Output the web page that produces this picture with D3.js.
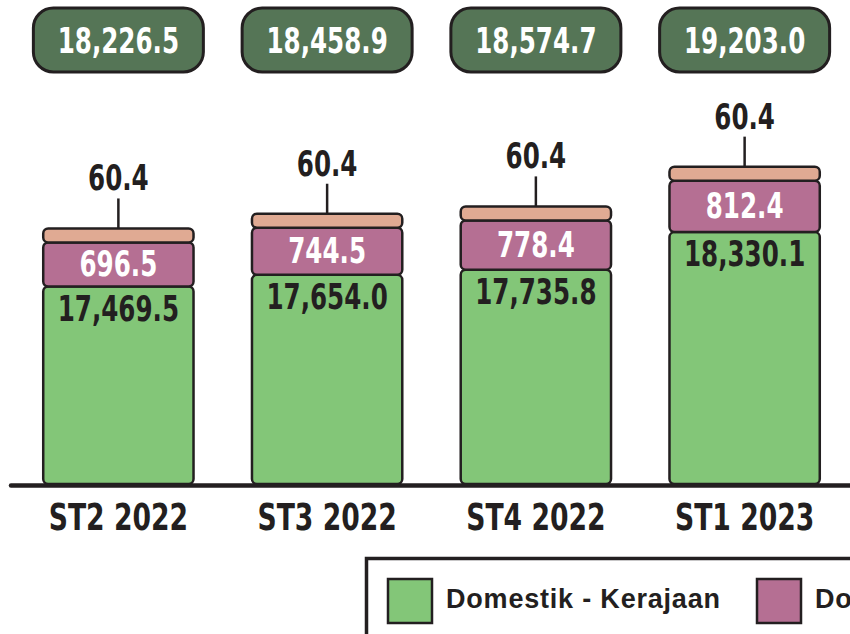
<!DOCTYPE html>
<html>
<head>
<meta charset="utf-8">
<script src="https://cdn.jsdelivr.net/npm/d3@7"></script>
<style>
  body { margin: 0; background: #fff; }
  svg text { font-family: "DejaVu Sans Condensed", "DejaVu Sans", sans-serif; font-weight: bold; }
  .legend text { font-family: "Liberation Sans", "DejaVu Sans", sans-serif; }
</style>
</head>
<body>
<svg id="chart" width="850" height="634"></svg>
<script>
// data
const quarters = ["ST2 2022", "ST3 2022", "ST4 2022", "ST1 2023"];
const kerajaan = [17469.5, 17654.0, 17735.8, 18330.1];
const swasta = [696.5, 744.5, 778.4, 812.4];
const luar = [60.4, 60.4, 60.4, 60.4];
const totals = [18226.5, 18458.9, 18574.7, 19203.0];
const legendNames = ["Domestik - Kerajaan", "Domestik - Swasta", "Luar Negara"];

const keys = ["kerajaan", "swasta", "luar"];
const colors = { kerajaan: "#83c678", swasta: "#b56f93", luar: "#e0aa93" };
const ink = "#231f20";
const fmt = d3.format(",.1f");

const rows = quarters.map((q, i) => ({ q: q, kerajaan: kerajaan[i], swasta: swasta[i], luar: luar[i], total: totals[i] }));
const series = d3.stack().keys(keys)(rows);

const svg = d3.select("#chart");
const base = 484;

const x = d3.scaleBand().domain(quarters).range([14, 849]).paddingInner(0.28).paddingOuter(0.14);
// axis does not start at zero in the original
const y = d3.scaleLinear().domain([14350, 19200]).range([base, 177]).clamp(true);
const minH = 14; // keep the thin top layer visible

// the original uses a narrow font, squeeze the condensed one a bit
const sx = 0.76;

function segTop(key, d) {
  const t = y(d[1]);
  return key === "luar" ? Math.min(t, y(d[0]) - minH) : t;
}

// bars
const layer = svg.append("g").selectAll("g")
  .data(series)
  .join("g")
  .attr("fill", s => colors[s.key]);

layer.selectAll("rect")
  .data(s => s.map(d => ({ key: s.key, d: d })))
  .join("rect")
  .attr("x", p => x(p.d.data.q))
  .attr("width", x.bandwidth())
  .attr("y", p => segTop(p.key, p.d))
  .attr("height", p => y(p.d[0]) - segTop(p.key, p.d))
  .attr("rx", 5)
  .attr("stroke", ink)
  .attr("stroke-width", 2.5);

const labels = svg.append("g");
const cx = q => x(q) + x.bandwidth() / 2;

function put(sel, fx, fy) {
  sel.attr("transform", d => `translate(${fx(d)},${fy(d)}) scale(${sx},1)`)
    .attr("text-anchor", "middle")
    .attr("font-size", 36);
}

// green labels
labels.selectAll(".lab-k")
  .data(series[0])
  .join("text")
  .call(put, d => cx(d.data.q), d => y(d[1]) + 34)
  .attr("fill", ink)
  .text(d => fmt(d.data.kerajaan));

// purple labels
labels.selectAll(".lab-s")
  .data(series[1])
  .join("text")
  .call(put, d => cx(d.data.q), d => (y(d[0]) + y(d[1])) / 2 + 12)
  .attr("fill", "#fff")
  .text(d => fmt(d.data.swasta));

// top layer labels with leader line
const tops = series[2].map(d => ({ d: d, t: segTop("luar", d) }));
labels.selectAll(".lead")
  .data(tops)
  .join("line")
  .attr("x1", p => cx(p.d.data.q))
  .attr("x2", p => cx(p.d.data.q))
  .attr("y1", p => p.t)
  .attr("y2", p => p.t - 30)
  .attr("stroke", ink)
  .attr("stroke-width", 2.5);

labels.selectAll(".lab-l")
  .data(tops)
  .join("text")
  .call(put, p => cx(p.d.data.q), p => p.t - 38)
  .attr("fill", ink)
  .text(p => fmt(p.d.data.luar));

// total boxes
const box = svg.append("g").selectAll("g")
  .data(rows)
  .join("g")
  .attr("transform", d => `translate(${cx(d.q)},0)`);

box.append("rect")
  .attr("x", -85).attr("y", 8)
  .attr("width", 170).attr("height", 64)
  .attr("rx", 20)
  .attr("fill", "#557556")
  .attr("stroke", ink)
  .attr("stroke-width", 3);

box.append("text")
  .call(put, () => 0, () => 53)
  .attr("fill", "#fff")
  .text(d => fmt(d.total));

// x axis
svg.append("line")
  .attr("x1", 11).attr("x2", 850)
  .attr("y1", base + 1.5).attr("y2", base + 1.5)
  .attr("stroke", ink)
  .attr("stroke-width", 4.5)
  .attr("stroke-linecap", "round");

const axis = svg.append("g")
  .attr("transform", `translate(0,${base})`)
  .call(d3.axisBottom(x).tickSize(0));
axis.select(".domain").remove();
axis.selectAll("text")
  .attr("y", null)
  .attr("dy", null)
  .attr("transform", "translate(0,46) scale(0.8,1)")
  .attr("font-size", 37)
  .attr("font-family", null)
  .attr("fill", ink);

// legend
const leg = svg.append("g").attr("class", "legend");
leg.append("rect")
  .attr("x", 366.5).attr("y", 558.5)
  .attr("width", 700).attr("height", 120)
  .attr("fill", "#fff")
  .attr("stroke", ink)
  .attr("stroke-width", 3.5);

const legX = [388, 757, 1100];
const item = leg.selectAll(".item")
  .data(keys)
  .join("g")
  .attr("transform", (k, i) => `translate(${legX[i]},579)`);

item.append("rect")
  .attr("width", 44).attr("height", 44)
  .attr("fill", k => colors[k])
  .attr("stroke", ink)
  .attr("stroke-width", 2.5);

item.append("text")
  .attr("x", 58)
  .attr("y", 29)
  .attr("font-size", 27)
  .attr("letter-spacing", 0.8)
  .attr("fill", ink)
  .text((k, i) => legendNames[i]);
</script>
</body>
</html>
